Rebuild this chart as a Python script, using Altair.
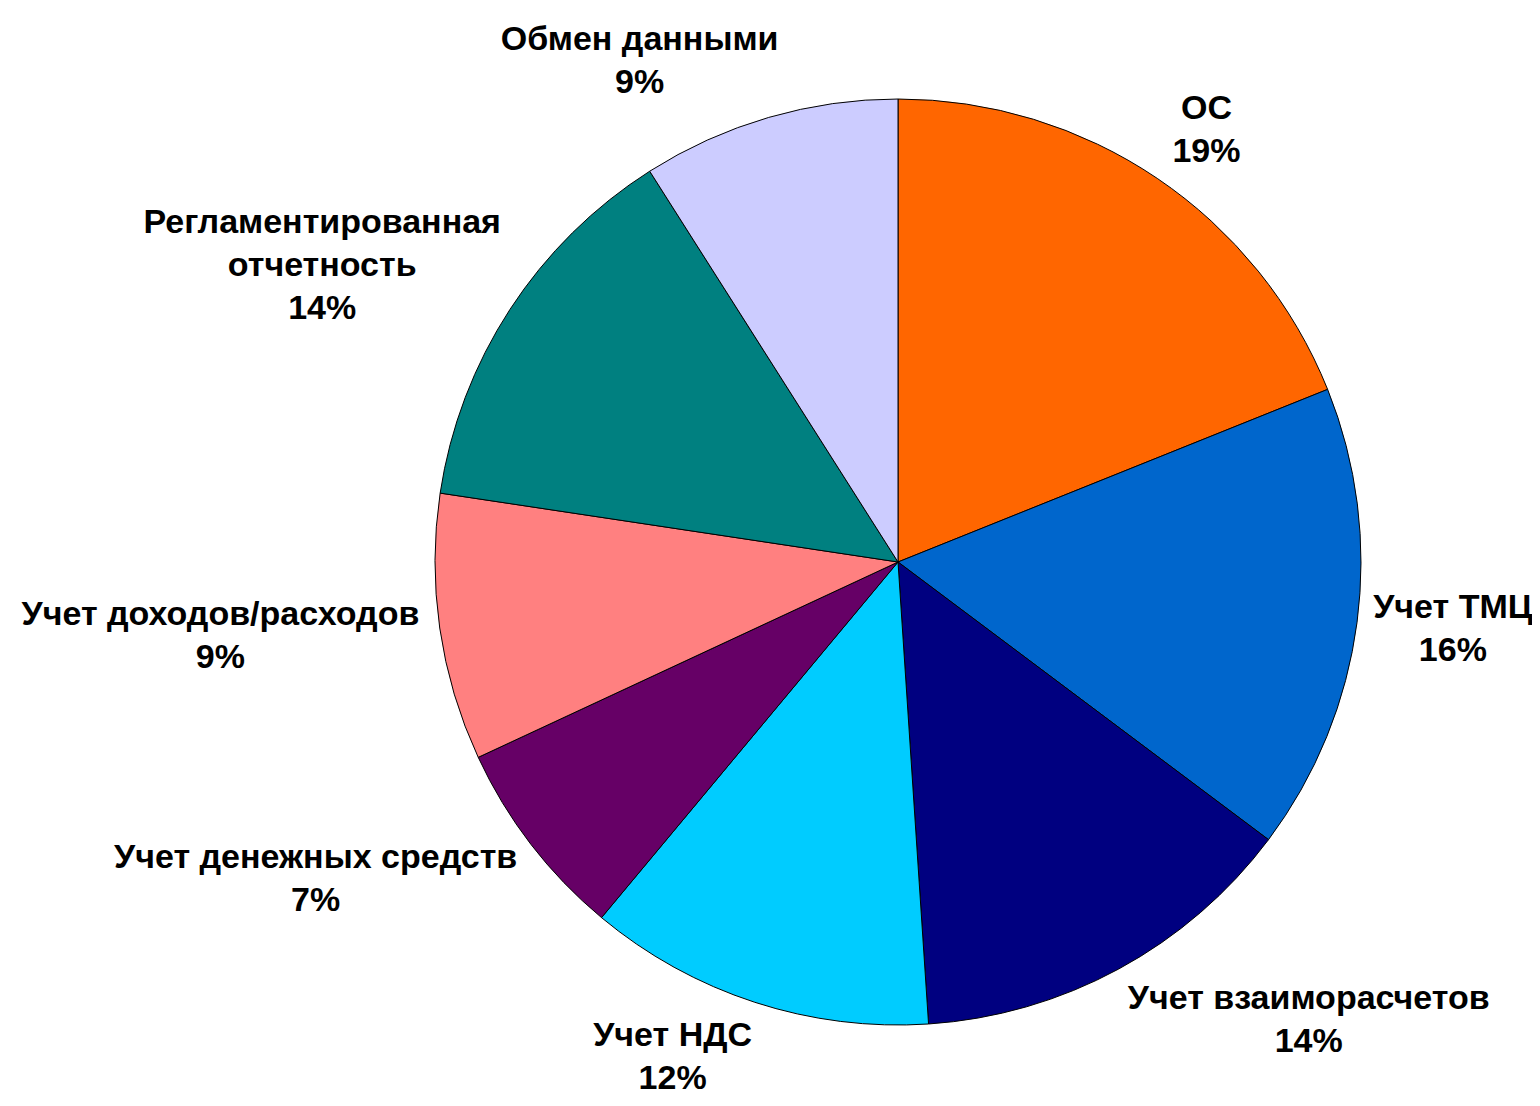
import altair as alt
import pandas as pd
import numpy as np

# Data
categories = ["ОС", "Учет ТМЦ", "Учет взаиморасчетов", "Учет НДС",
              "Учет денежных средств", "Учет доходов/расходов",
              "Регламентированная отчетность", "Обмен данными"]
label_names = ["ОС", "Учет ТМЦ", "Учет взаиморасчетов", "Учет НДС",
               "Учет денежных средств", "Учет доходов/расходов",
               "Регламентированная\nотчетность", "Обмен данными"]
values = [18.9, 16.3, 13.7, 12.1, 7.0, 9.3, 13.6, 9.0]
pct_labels = ["19%", "16%", "14%", "12%", "7%", "9%", "14%", "9%"]
colors = ["#FF6600", "#0066CC", "#000080", "#00CCFF",
          "#660066", "#FF8080", "#008080", "#CCCCFF"]

# Layout constants
W, H = 1260, 1072
R = 463          # pie radius (px)
GAP_X = 20       # horizontal gap between pie and label box
GAP_Y = 15       # vertical gap between pie and label box
CHAR_W = 19      # approx. char width for label box estimate
LINE_H = 43

df = pd.DataFrame({
    "category": categories,
    "value": values,
    "order": list(range(len(categories))),
    "label": [n + "\n" + p for n, p in zip(label_names, pct_labels)],
})

# label placement (Excel-like: box edge next to slice midpoint)
tot = float(np.sum(values))
cum = np.cumsum(values)
mid = (cum - np.array(values) / 2) / tot * 2 * np.pi
lines = [l.split("\n") for l in df["label"]]
bw = np.array([max(max(len(s) for s in ls), 4) * CHAR_W for ls in lines])
nl = np.array([len(ls) for ls in lines])
bh = nl * LINE_H
s, c = np.sin(mid), np.cos(mid)
df["lx"] = s * (R + GAP_X) + np.sign(s) * bw / 2
# anchor is the first line: shift up so the whole block is centred
df["ly"] = c * (R + GAP_Y + bh / 2) + (nl - 1) * LINE_H / 2

base = alt.Chart(df)

pie = base.mark_arc(outerRadius=R, stroke="black", strokeWidth=1).encode(
    theta=alt.Theta("value:Q", stack=True),
    color=alt.Color("category:N", scale=alt.Scale(domain=categories, range=colors), legend=None),
    order=alt.Order("order:Q"),
)

text = base.mark_text(
    font="Liberation Sans", fontSize=34, fontWeight="bold",
    lineBreak="\n", lineHeight=LINE_H, align="center", baseline="middle",
    color="black",
).encode(
    x=alt.X("lx:Q", scale=alt.Scale(domain=[-W / 2, W / 2], nice=False, zero=False), axis=None),
    y=alt.Y("ly:Q", scale=alt.Scale(domain=[-H / 2, H / 2], nice=False, zero=False), axis=None),
    text="label:N",
)

chart = alt.layer(pie, text).properties(
    width=W, height=H,
    padding={"left": 260, "top": 18, "right": 4, "bottom": 0},
    autosize=alt.AutoSizeParams(type="none"),
    background="white",
).configure_view(stroke=None)

chart.save("out.html", embed_options={"renderer": "svg", "actions": False})
